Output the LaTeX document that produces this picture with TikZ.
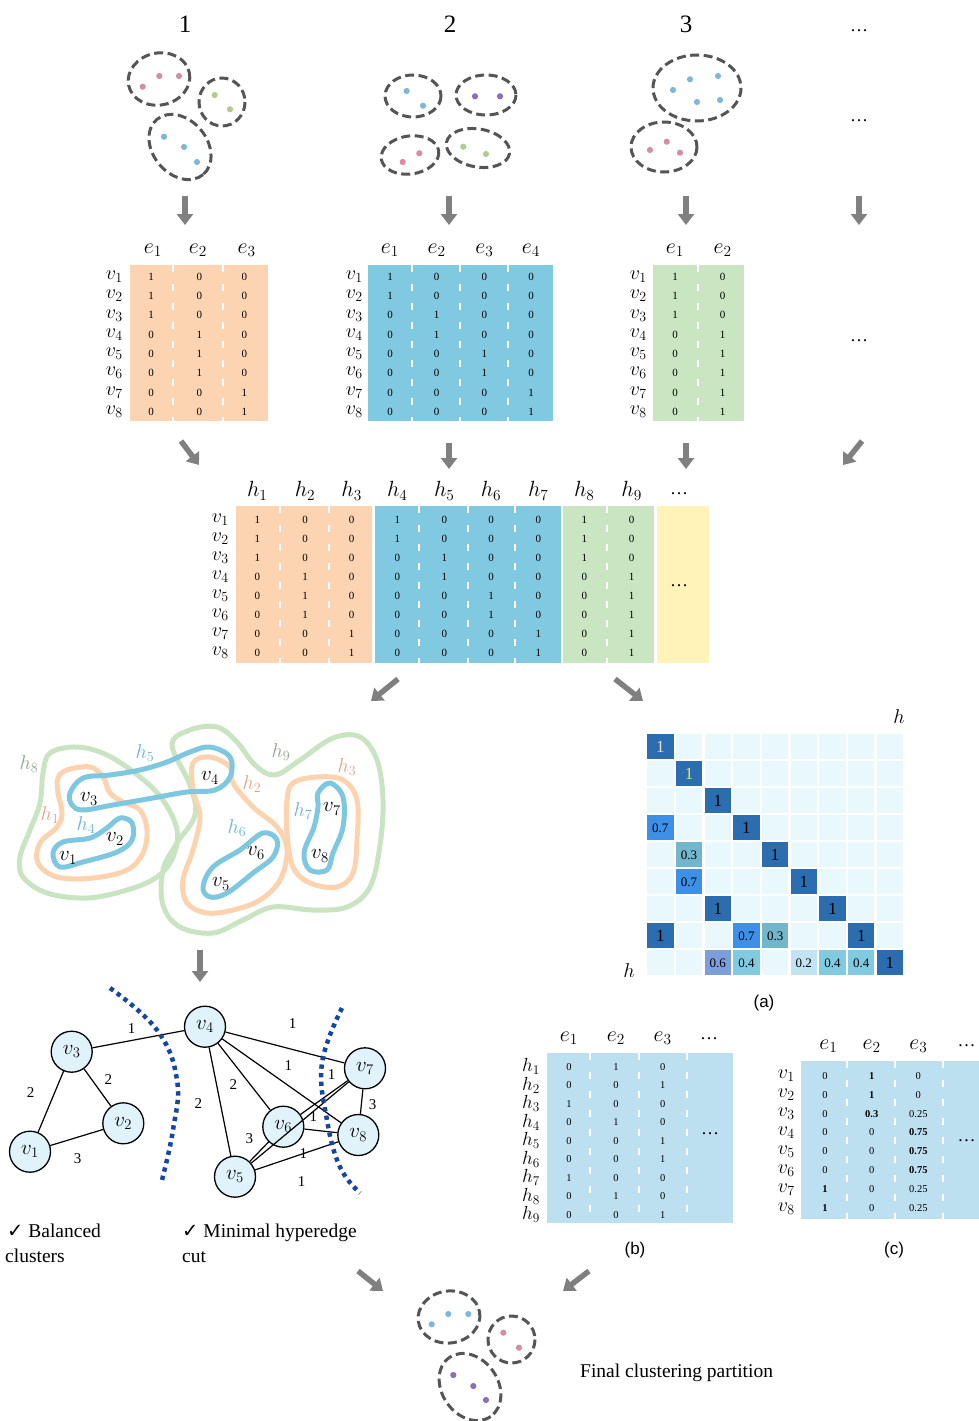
\RequirePackage{fix-cm}
\documentclass[tikz,border=0pt]{standalone}
\usepackage{fontspec}
\setmainfont{Liberation Serif}
\newfontfamily\capsans{Liberation Sans}
\newfontfamily\symfont{DejaVu Sans}
\usetikzlibrary{arrows.meta}

\definecolor{arrowgray}{HTML}{808080}
\definecolor{ringgray}{HTML}{555555}
\definecolor{orangecell}{HTML}{FDD4B2}
\definecolor{bluecell}{HTML}{80C9E0}
\definecolor{greencell}{HTML}{C9E5C1}
\definecolor{yellowcell}{HTML}{FFF3B9}
\definecolor{palecell}{HTML}{BDE0F1}
\definecolor{dotpink}{HTML}{D68DA3}
\definecolor{dotgreen}{HTML}{B3CB8F}
\definecolor{dotblue}{HTML}{7EB7D7}
\definecolor{dotpurple}{HTML}{8B6EBA}
\definecolor{loopgreen}{HTML}{C8E4C0}
\definecolor{looporange}{HTML}{FDD2AE}
\definecolor{loopblue}{HTML}{7DC7E0}
\definecolor{labgreen}{HTML}{8CA78A}
\definecolor{laborange}{HTML}{D9A68D}
\definecolor{labblue}{HTML}{6CB3D1}
\definecolor{nodefill}{HTML}{E1F3FA}
\definecolor{cutblue}{HTML}{1546A0}
\definecolor{hmbg}{HTML}{E8F8FC}
\definecolor{hmone}{HTML}{2B6DAE}
\definecolor{hmseven}{HTML}{3E8FE7}
\definecolor{hmthree}{HTML}{73B6CC}
\definecolor{hmsix}{HTML}{7C9FDC}
\definecolor{hmfour}{HTML}{80CBE1}
\definecolor{hmtwo}{HTML}{C1E3F3}
\definecolor{hmwhite}{HTML}{E4E4E4}
\definecolor{hmyellow}{HTML}{E8E84A}

\newcommand\fsz[1]{\fontsize{#1}{#1}\selectfont}

% matrix entries: name, column xs, first row y, row step, style, rows
\newcommand\cellgrid[6]{%
  \foreach \rowvals [count=\ri] in {#6}{%
    \foreach \cv [count=\ci] in \rowvals{%
      \pgfmathsetmacro\cx{{#2}[\ci-1]}%
      \node[#5] (#1-\ri-\ci) at (\cx,{#3+#4*(\ri-1)}) {\cv};
    }%
  }%
}
% row labels: name, right edge x, first y, step, letter, count
\newcommand\rowlabels[6]{%
  \foreach \k in {1,...,#6}{%
    \node[rowlab, anchor=east] (#1-\k) at (#2,{#3+#4*(\k-1)}) {$#5_{\k}$};
  }%
}
% column labels: name, y, letter, xs
\newcommand\collabels[4]{%
  \foreach \hx [count=\k] in {#4}{%
    \node[collab] (#1-\k) at (\hx,#2) {$#3_{\k}$};
  }%
}
% coloured block with dashed white column separators: left, right, top, bottom, colour, separator xs
\newcommand\block[6]{%
  \fill[#5] (#1,#3) rectangle (#2,#4);
  \foreach \sx in {#6}{\draw[colsep] (\sx,#3) -- (\sx,#4);}%
}

\tikzset{
  heading/.style={font=\fsz{25}, inner sep=0pt},
  ellip/.style={font=\fsz{18}, inner sep=0pt},
  bigarrow/.style={draw=arrowgray, line width=5.5pt, -{Triangle[width=16pt,length=11pt]}},
  ring/.style={draw=ringgray, line width=3pt, dash pattern=on 9pt off 4.5pt},
  num/.style={font=\fsz{11}, inner sep=0pt},
  smallnum/.style={font=\fsz{10.5}, inner sep=0pt},
  rowlab/.style={font=\fsz{20}, inner sep=0pt},
  collab/.style={font=\fsz{22}, inner sep=0pt},
  colsep/.style={draw=white, line width=2.2pt, dash pattern=on 7pt off 12pt},
  hloop/.style={line width=5pt, line join=round},
  vlab/.style={font=\fsz{21}, inner sep=0pt},
  hlab/.style={font=\fsz{20}, inner sep=0pt},
  gnode/.style={circle, draw=black, line width=1.3pt, fill=nodefill, minimum size=41pt, inner sep=0pt, font=\fsz{21}},
  gedge/.style={draw=black, line width=1.2pt},
  wlab/.style={font=\fsz{15}, inner sep=0pt},
  cutline/.style={draw=cutblue, line width=4.5pt, dash pattern=on 4.3pt off 4.3pt},
  hcell/.style={minimum width=26.4pt, minimum height=24.8pt, inner sep=0pt},
  capt/.style={font=\capsans\fsz{17}, inner sep=0pt},
  remark/.style={font=\fsz{19.5}, inner sep=0pt, anchor=base west},
}

\begin{document}
\begin{tikzpicture}[x=1pt,y=-1pt]
\useasboundingbox (0,0) rectangle (979,1421);

% ---------- base clusterings ----------
\node[heading] (t1) at (185,24) {1};
\node[heading] (t2) at (450,24) {2};
\node[heading] (t3) at (686,24) {3};
\node[ellip] (t4) at (859,31) {\dots};
\node[ellip] (t5) at (859,121) {\dots};

% clustering 1
\draw[ring, rotate around={12:(159,79)}] (159,79) ellipse [x radius=31, y radius=26];
\draw[ring] (222,102) ellipse [x radius=23, y radius=24];
\draw[ring, rotate around={-50:(180,147)}] (180,147) ellipse [x radius=36, y radius=27];
\foreach \p in {(142.7,86.7),(159.3,76),(179,76)} \fill[dotpink] \p circle (3.1);
\foreach \p in {(214.7,95),(230,109.3)} \fill[dotgreen] \p circle (3.1);
\foreach \p in {(164,136.7),(184,147),(197,162)} \fill[dotblue] \p circle (3.1);

% clustering 2
\draw[ring] (413,96) ellipse [x radius=28, y radius=21];
\draw[ring] (486,95) ellipse [x radius=30, y radius=20];
\draw[ring, rotate around={8:(410,155)}] (410,155) ellipse [x radius=29, y radius=19];
\draw[ring, rotate around={-10:(478,148)}] (478,148) ellipse [x radius=32, y radius=19];
\foreach \p in {(406.7,91),(423,105.7)} \fill[dotblue] \p circle (3.1);
\foreach \p in {(475,96.3),(500,96.3)} \fill[dotpurple] \p circle (3.1);
\foreach \p in {(402.7,162),(419.3,153.3)} \fill[dotpink] \p circle (3.1);
\foreach \p in {(463.3,146.7),(486,154)} \fill[dotgreen] \p circle (3.1);

% clustering 3
\draw[ring] (697,88) ellipse [x radius=44, y radius=33];
\draw[ring] (664,147) ellipse [x radius=33, y radius=25];
\foreach \p in {(673,90),(690,79.3),(718,76),(697,102),(720,100)} \fill[dotblue] \p circle (3.1);
\foreach \p in {(650,150),(666.7,141.7),(680,152.7)} \fill[dotpink] \p circle (3.1);

% arrows down to the incidence matrices
\foreach \ax/\nm in {185/a, 449/b, 686/c, 859/d}{
  \coordinate (d\nm s) at (\ax,196);
  \coordinate (d\nm e) at (\ax,225);
  \draw[bigarrow] (d\nm s) -- (d\nm e);
}

% ---------- incidence matrices of the base clusterings ----------
\block{130}{267.7}{265}{421}{orangecell}{172.7,222.7}
\collabels{ma}{250}{e}{153,198,246.7}
\rowlabels{ra}{123}{276.7}{19.29}{v}{8}
\cellgrid{ma}{151,199.3,244.3}{276.7}{19.29}{num}{{1,0,0},{1,0,0},{1,0,0},{0,1,0},{0,1,0},{0,1,0},{0,0,1},{0,0,1}}

\block{367.7}{553.3}{265}{421}{bluecell}{411.7,460,507.7}
\collabels{mb}{250}{e}{390,436.7,484.3,531}
\rowlabels{rb}{363}{276.7}{19.29}{v}{8}
\cellgrid{mb}{390,436.7,484.3,531}{276.7}{19.29}{num}{{1,0,0,0},{1,0,0,0},{0,1,0,0},{0,1,0,0},{0,0,1,0},{0,0,1,0},{0,0,0,1},{0,0,0,1}}

\block{653.3}{744.3}{265}{421}{greencell}{697.7}
\collabels{mc}{250}{e}{675,722.7}
\rowlabels{rc}{647}{276.7}{19.29}{v}{8}
\cellgrid{mc}{675,722.7}{276.7}{19.29}{num}{{1,0},{1,0},{1,0},{0,1},{0,1},{0,1},{0,1},{0,1}}
\node[ellip] (t6) at (859,341) {\dots};

% arrows to the combined matrix
\coordinate (e1s) at (181,441); \coordinate (e1e) at (199,465);
\coordinate (e2s) at (449,443); \coordinate (e2e) at (449,469);
\coordinate (e3s) at (686,443); \coordinate (e3e) at (686,469);
\coordinate (e4s) at (862,441); \coordinate (e4e) at (843,465);
\foreach \k in {1,2,3,4} \draw[bigarrow] (e\k s) -- (e\k e);

% ---------- combined hyperedge matrix ----------
\block{236}{372.3}{506}{662.7}{orangecell}{280,329}
\block{375}{561}{506}{662.7}{bluecell}{419.3,467.7,515}
\block{563.3}{654}{506}{662.7}{greencell}{606.7}
\fill[yellowcell] (656.7,506) rectangle (709.3,662.7);
\collabels{hh}{491}{h}{257.3,305,351.7,397.3,444.3,491,538.3,584.3,631.7}
\node[ellip] (hhd) at (679,494) {\dots};
\node[ellip] (hyd) at (679,586) {\dots};
\rowlabels{rh}{229}{520}{18.96}{v}{8}
\cellgrid{hm}{257.3,305,351.7,397.3,444.3,491,538.3,584.3,631.7}{520}{18.96}{num}{{1,0,0,1,0,0,0,1,0},{1,0,0,1,0,0,0,1,0},{1,0,0,0,1,0,0,1,0},{0,1,0,0,1,0,0,0,1},{0,1,0,0,0,1,0,0,1},{0,1,0,0,0,1,0,0,1},{0,0,1,0,0,0,1,0,1},{0,0,1,0,0,0,1,0,1}}

\coordinate (f1s) at (398,679); \coordinate (f1e) at (371,701);
\coordinate (f2s) at (615,679); \coordinate (f2e) at (643,701);
\draw[bigarrow] (f1s) -- (f1e);
\draw[bigarrow] (f2s) -- (f2e);

% ---------- hypergraph ----------
\draw[hloop, loopgreen] plot[smooth cycle, tension=0.6] coordinates {(50,753) (77,747) (107,755) (140,777) (163,800) (177,830) (173,857) (157,877) (127,890) (87,898) (47,893) (23,877) (20,857) (30,830) (40,803) (43,773)};
\draw[hloop, loopgreen] plot[smooth cycle, tension=0.6] coordinates {(172,745) (190,730) (217,727) (237,742) (255,765) (275,775) (300,760) (333,738) (360,737) (377,760) (383,800) (380,845) (370,887) (347,907) (313,910) (273,907) (243,920) (213,933) (180,927) (163,905) (163,870) (177,843) (195,815) (190,785)};
\draw[hloop, looporange] plot[smooth cycle, tension=0.6] coordinates {(67,770) (90,767) (103,777) (110,793) (123,802) (140,810) (147,830) (143,853) (127,870) (93,878) (57,877) (38,863) (40,843) (57,827) (62,813) (58,793) (58,778)};
\draw[hloop, looporange] plot[smooth cycle, tension=0.6] coordinates {(193,763) (210,757) (230,767) (233,783) (253,807) (277,827) (287,850) (280,880) (260,900) (233,910) (207,913) (187,903) (183,880) (193,850) (200,817) (193,790)};
\draw[hloop, looporange] plot[smooth cycle, tension=0.6] coordinates {(293,783) (317,777) (343,780) (357,800) (357,840) (353,873) (337,887) (310,883) (293,867) (287,833) (287,800)};
\draw[hloop, loopblue] plot[smooth cycle, tension=0.6] coordinates {(53,853) (63,842) (90,838) (107,828) (120,818) (132,823) (132,840) (117,852) (83,862) (60,867)};
\draw[hloop, loopblue] plot[smooth cycle, tension=0.6] coordinates {(70,793) (83,778) (110,775) (140,770) (167,762) (190,752) (210,747) (230,757) (230,777) (215,790) (187,792) (153,798) (113,805) (83,810) (72,805)};
\draw[hloop, loopblue] plot[smooth cycle, tension=0.6] coordinates {(203,887) (213,867) (240,850) (263,833) (277,840) (273,857) (253,873) (227,893) (210,897)};
\draw[hloop, loopblue] plot[smooth cycle, tension=0.6] coordinates {(318,793) (330,783) (343,797) (343,827) (333,853) (327,870) (310,870) (304,853) (314,827) (318,807)};

\node[hlab, text=labgreen] (lh8) at (29,764) {$h_8$};
\node[hlab, text=labblue] (lh5) at (145,753) {$h_5$};
\node[hlab, text=labgreen] (lh9) at (281,752) {$h_9$};
\node[hlab, text=laborange] (lh3) at (347,767) {$h_3$};
\node[hlab, text=laborange] (lh2) at (252,784) {$h_2$};
\node[hlab, text=laborange] (lh1) at (50,815) {$h_1$};
\node[hlab, text=labblue] (lh4) at (86,825) {$h_4$};
\node[hlab, text=labblue] (lh6) at (237,828) {$h_6$};
\node[hlab, text=labblue] (lh7) at (303,811) {$h_7$};
\node[vlab] (hv3) at (89,799) {$v_3$};
\node[vlab] (hv4) at (210,778) {$v_4$};
\node[vlab] (hv2) at (115,839) {$v_2$};
\node[vlab] (hv1) at (68,858) {$v_1$};
\node[vlab] (hv6) at (256,853) {$v_6$};
\node[vlab] (hv5) at (221,884) {$v_5$};
\node[vlab] (hv7) at (332,809) {$v_7$};
\node[vlab] (hv8) at (320,856) {$v_8$};

\coordinate (g0s) at (200,950); \coordinate (g0e) at (200,982);
\draw[bigarrow] (g0s) -- (g0e);

% ---------- hyperedge similarity matrix (a) ----------
\foreach \r in {1,...,9}{
  \foreach \c in {1,...,9}{
    \node[hcell, fill=hmbg] (bg-\r-\c) at ({646+28.7*(\c-0.5)},{733.3+27*(\r-0.5)}) {};
  }
}
\foreach \r/\c/\col/\val/\tc/\fs in {
  1/1/hmone/1/hmwhite/17, 2/2/hmone/1/hmyellow/17, 3/3/hmone/1/black/17,
  4/1/hmseven/0.7/black/13, 4/4/hmone/1/black/17,
  5/2/hmthree/0.3/black/13, 5/5/hmone/1/black/17,
  6/2/hmseven/0.7/black/13, 6/6/hmone/1/black/17,
  7/3/hmone/1/black/17, 7/7/hmone/1/black/17,
  8/1/hmone/1/black/17, 8/4/hmseven/0.7/black/13, 8/5/hmthree/0.3/black/13, 8/8/hmone/1/black/17,
  9/3/hmsix/0.6/black/13, 9/4/hmfour/0.4/black/13, 9/6/hmtwo/0.2/black/13,
  9/7/hmfour/0.4/black/13, 9/8/hmfour/0.4/black/13, 9/9/hmone/1/black/17}{
  \node[hcell, fill=\col, text=\tc, font=\fsz{\fs}] (hv-\r-\c) at ({646+28.7*(\c-0.5)},{733.3+27*(\r-0.5)}) {\val};
}
\node[hlab] (hmtop) at (899,717) {$h$};
\node[hlab] (hmleft) at (629,971) {$h$};
\node[capt] (capa) at (764,1003) {(a)};

% ---------- weighted graph ----------
\node[gnode] (g3) at (71.7,1051.7) {$v_3$};
\node[gnode] (g1) at (30,1151.7) {$v_1$};
\node[gnode] (g2) at (123.3,1123.3) {$v_2$};
\node[gnode] (g4) at (205,1026.7) {$v_4$};
\node[gnode] (g7) at (365,1068.3) {$v_7$};
\node[gnode] (g6) at (283.3,1126.7) {$v_6$};
\node[gnode] (g8) at (358.3,1135) {$v_8$};
\node[gnode] (g5) at (235,1176.7) {$v_5$};
\foreach \u/\w in {g3/g4, g3/g1, g3/g2, g1/g2, g4/g7, g4/g8, g4/g6, g4/g5, g6/g7, g5/g7, g6/g8, g5/g8, g7/g8, g5/g6}
  \draw[gedge] (\u) -- (\w);
\node[wlab] (w34) at (131.7,1028.3) {1};
\node[wlab] (w31) at (30.7,1093) {2};
\node[wlab] (w32) at (108.3,1079.3) {2};
\node[wlab] (w12) at (77.7,1158.3) {3};
\node[wlab] (w47) at (292.7,1023.3) {1};
\node[wlab] (w48) at (288.3,1066) {1};
\node[wlab] (w46) at (233.3,1085) {2};
\node[wlab] (w45) at (198.3,1103.3) {2};
\node[wlab] (w67) at (331.7,1075) {1};
\node[wlab] (w78) at (372.7,1105) {3};
\node[wlab] (w68) at (313.3,1116.7) {1};
\node[wlab] (w56) at (249.3,1138.3) {3};
\node[wlab] (w57) at (303.3,1153.3) {1};
\node[wlab] (w58) at (301.7,1181.7) {1};
\draw[cutline] plot[smooth, tension=0.7] coordinates {(110,988) (157,1030) (177,1080) (173,1130) (162,1180)};
\draw[cutline] plot[smooth, tension=0.7] coordinates {(342,1008) (322,1063) (327,1120) (340,1167) (360,1193)};

\node[remark] (n1) at (7,1237) {{\symfont ✓} Balanced};
\node[remark] (n2) at (5,1262) {clusters};
\node[remark] (n3) at (182,1237) {{\symfont ✓} Minimal hyperedge};
\node[remark] (n4) at (182,1262) {cut};

% ---------- matrix (b) ----------
\block{547.3}{732.7}{1052.7}{1223.3}{palecell}{590,639.3,686.7}
\collabels{mbb}{1038}{e}{569,616,662.7}
\node[ellip] (bd1) at (709,1039) {\dots};
\node[ellip] (bd2) at (710,1134) {\dots};
\begin{scope}[rowlab/.append style={font=\fsz{19}}]
\rowlabels{rbb}{540}{1066.7}{18.5}{h}{9}
\end{scope}
\cellgrid{vb}{569,616,662.7}{1066.7}{18.5}{smallnum}{{0,1,0},{0,0,1},{1,0,0},{0,1,0},{0,0,1},{0,0,1},{1,0,0},{0,1,0},{0,0,1}}
\node[capt] (capb) at (635,1250) {(b)};

% ---------- matrix (c) ----------
\block{801}{979}{1060.7}{1219.3}{palecell}{847.3,895,942.7}
\collabels{mcc}{1046}{e}{828.3,871.7,918.3}
\node[ellip] (cd1) at (966.7,1046) {\dots};
\node[ellip] (cd2) at (966.7,1141) {\dots};
\rowlabels{rcc}{795}{1075.7}{18.94}{v}{8}
\cellgrid{vc}{825,871.7,918.3}{1075.7}{18.94}{smallnum}{{0,\textbf{1},0},{0,\textbf{1},0},{0,\textbf{0.3},0.25},{0,0,\textbf{0.75}},{0,0,\textbf{0.75}},{0,0,\textbf{0.75}},{\textbf{1},0,0.25},{\textbf{1},0,0.25}}
\node[capt] (capc) at (894,1250) {(c)};

% ---------- final partition ----------
\coordinate (k1s) at (358,1271); \coordinate (k1e) at (383,1291);
\coordinate (k2s) at (589,1271); \coordinate (k2e) at (563,1291);
\draw[bigarrow] (k1s) -- (k1e);
\draw[bigarrow] (k2s) -- (k2e);
\draw[ring, rotate around={8:(449,1317)}] (449,1317) ellipse [x radius=31, y radius=26];
\draw[ring] (511.5,1339.5) ellipse [x radius=23.5, y radius=23.5];
\draw[ring, rotate around={-55:(470,1387)}] (470,1387) ellipse [x radius=36, y radius=28];
\foreach \p in {(431.7,1324.3),(448.3,1314),(468.3,1314)} \fill[dotblue] \p circle (3.1);
\foreach \p in {(503.3,1332.7),(519,1347.7)} \fill[dotpink] \p circle (3.1);
\foreach \p in {(453.3,1375),(473.3,1386),(486,1400)} \fill[dotpurple] \p circle (3.1);
\node[remark] (fin) at (580,1377) {Final clustering partition};
\end{tikzpicture}
\end{document}
